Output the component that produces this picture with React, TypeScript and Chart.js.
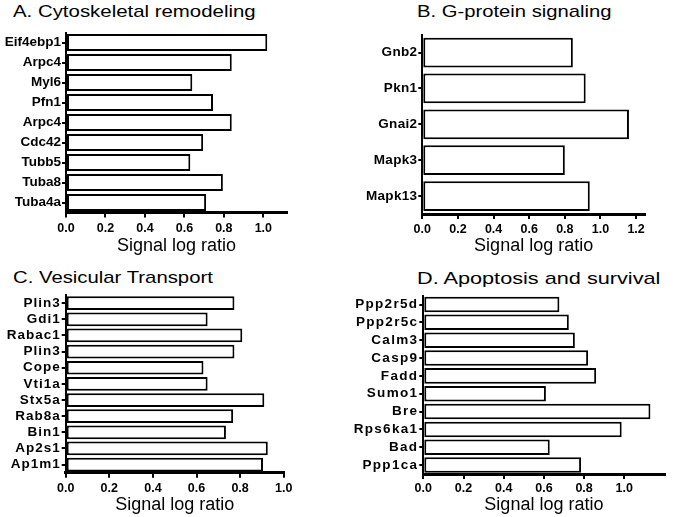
import React, { useEffect, useRef } from "react";
import { Chart, registerables } from "chart.js";

Chart.register(...registerables);

// ---------- Data ----------
const A_LABELS = ["Eif4ebp1", "Arpc4", "Myl6", "Pfn1", "Arpc4", "Cdc42", "Tubb5", "Tuba8", "Tuba4a"];
const A_VALUES = [1.02, 0.84, 0.64, 0.745, 0.84, 0.695, 0.63, 0.795, 0.71];
const A_TICKS = [0, 0.2, 0.4, 0.6, 0.8, 1.0];
const A_MAX = 1.12;

const B_LABELS = ["Gnb2", "Pkn1", "Gnai2", "Mapk3", "Mapk13"];
const B_VALUES = [0.845, 0.917, 1.16, 0.8, 0.94];
const B_TICKS = [0, 0.2, 0.4, 0.6, 0.8, 1.0, 1.2];
const B_MAX = 1.25;

const C_LABELS = ["Plin3", "Gdi1", "Rabac1", "Plin3", "Cope", "Vti1a", "Stx5a", "Rab8a", "Bin1", "Ap2s1", "Ap1m1"];
const C_VALUES = [0.774, 0.651, 0.81, 0.774, 0.632, 0.651, 0.911, 0.768, 0.735, 0.927, 0.905];
const C_TICKS = [0, 0.2, 0.4, 0.6, 0.8, 1.0];
const C_MAX = 1.0;

const D_LABELS = ["Ppp2r5d", "Ppp2r5c", "Calm3", "Casp9", "Fadd", "Sumo1", "Bre", "Rps6ka1", "Bad", "Ppp1ca"];
const D_VALUES = [0.677, 0.724, 0.754, 0.82, 0.86, 0.61, 1.13, 0.987, 0.629, 0.785];
const D_TICKS = [0, 0.2, 0.4, 0.6, 0.8, 1.0];
const D_MAX = 1.2;

const AXIS_TITLE = "Signal log ratio";
const TITLES = ["A. Cytoskeletal remodeling", "B. G-protein signaling", "C. Vesicular Transport", "D. Apoptosis and survival"];

const FAMILY = "'Liberation Sans', Arial, Helvetica, sans-serif";

type Layout = {
  left: number; top: number; width: number; height: number;
  x0: number; x1: number; y0: number; y1: number;
  tickPad: number; axisTitleY: number; barPct: number; labelSize: number; labelSpacing: number;
};

function Panel(props: { labels: string[]; values: number[]; ticks: number[]; max: number; lay: Layout }) {
  const ref = useRef<HTMLCanvasElement | null>(null);
  const { labels, values, ticks, max, lay } = props;
  useEffect(() => {
    if (!ref.current) return;
    const titleSize = 18;
    const xh = lay.axisTitleY - lay.y1 + (titleSize * 1.2) / 2;
    const yw = lay.x0 - lay.left;
    const spacingPlugin = {
      id: "labelSpacing",
      afterDatasetsDraw(chart: any) {
        chart.ctx.letterSpacing = `${lay.labelSpacing}px`;
      },
      afterDraw(chart: any) {
        chart.ctx.letterSpacing = "0px";
      },
    };
    const chart = new Chart(ref.current, {
      type: "bar",
      data: {
        labels,
        datasets: [
          {
            data: values,
            backgroundColor: "#ffffff",
            borderColor: "#000000",
            borderWidth: 2,
            borderSkipped: false,
            barPercentage: lay.barPct,
            categoryPercentage: 1,
          },
        ],
      },
      plugins: [spacingPlugin],
      options: {
        indexAxis: "y",
        responsive: false,
        animation: false,
        devicePixelRatio: 1,
        layout: {
          padding: {
            left: 0,
            right: lay.left + lay.width - lay.x1,
            top: lay.y0 - lay.top,
            bottom: lay.top + lay.height - lay.y1 - xh,
          },
        },
        plugins: {
          legend: { display: false },
          tooltip: { enabled: false },
          title: { display: false },
        },
        scales: {
          x: {
            type: "linear",
            position: "bottom",
            min: 0,
            max,
            afterBuildTicks: (s: any) => {
              s.ticks = ticks.map((v) => ({ value: v }));
            },
            afterFit: (s: any) => {
              s.height = xh;
            },
            border: { display: true, color: "#000", width: 3 },
            grid: {
              display: true,
              drawOnChartArea: false,
              drawTicks: true,
              tickLength: 5,
              color: "#000",
              lineWidth: 2,
            },
            ticks: {
              color: "#000",
              padding: lay.tickPad,
              autoSkip: false,
              maxRotation: 0,
              font: { family: FAMILY, size: 12.5, weight: "bold" },
              callback: (v: any) => Number(v).toFixed(1),
            },
            title: {
              display: true,
              text: AXIS_TITLE,
              color: "#000",
              font: { family: FAMILY, size: titleSize },
              padding: { top: 0, bottom: 0 },
            },
          },
          y: {
            type: "category",
            afterFit: (s: any) => {
              s.width = yw;
            },
            border: { display: true, color: "#000", width: 2 },
            grid: {
              display: true,
              offset: false,
              drawOnChartArea: false,
              drawTicks: true,
              tickLength: 4,
              color: "#000",
              lineWidth: 2,
            },
            ticks: {
              z: 1,
              color: "#000",
              padding: 1,
              autoSkip: false,
              font: { family: FAMILY, size: lay.labelSize, weight: "bold" },
            },
          },
        },
      } as any,
    });
    return () => chart.destroy();
  }, []);
  return (
    <canvas
      ref={ref}
      width={lay.width}
      height={lay.height}
      style={{ position: "absolute", left: lay.left, top: lay.top, width: lay.width, height: lay.height }}
    />
  );
}

function Title(props: { text: string; left: number; baseline: number; stretch: number }) {
  const size = 17;
  return (
    <div
      style={{
        position: "absolute",
        left: props.left,
        top: props.baseline - 14.4,
        fontFamily: FAMILY,
        fontSize: size,
        lineHeight: `${size}px`,
        whiteSpace: "nowrap",
        color: "#000",
        transform: `scaleX(${props.stretch})`,
        transformOrigin: "left top",
      }}
    >
      {props.text}
    </div>
  );
}

export default function App() {
  const layA: Layout = { left: 0, top: 22, width: 300, height: 236, x0: 66, x1: 287, y0: 32.5, y1: 212.5, tickPad: 4, axisTitleY: 246, barPct: 0.85, labelSize: 13.5, labelSpacing: 0 };
  const layB: Layout = { left: 340, top: 22, width: 333, height: 236, x0: 422.3, x1: 645, y0: 34.6, y1: 214, tickPad: 3, axisTitleY: 246, barPct: 0.83, labelSize: 13.5, labelSpacing: 0.3 };
  const layC: Layout = { left: 0, top: 286, width: 300, height: 231, x0: 65.7, x1: 283.7, y0: 294.4, y1: 472.7, tickPad: 3, axisTitleY: 505, barPct: 0.85, labelSize: 13.5, labelSpacing: 1 };
  const layD: Layout = { left: 340, top: 286, width: 333, height: 231, x0: 423.3, x1: 664.5, y0: 295.6, y1: 474, tickPad: 2, axisTitleY: 505, barPct: 0.87, labelSize: 13.5, labelSpacing: 1.3 };
  return (
    <div style={{ position: "absolute", left: 0, top: 0, width: 673, height: 517, background: "#fff", overflow: "hidden" }}>
      <Title text={TITLES[0]} left={13} baseline={17.3} stretch={1.2} />
      <Title text={TITLES[1]} left={417} baseline={17.3} stretch={1.19} />
      <Title text={TITLES[2]} left={13.3} baseline={283.3} stretch={1.195} />
      <Title text={TITLES[3]} left={417} baseline={284.3} stretch={1.275} />
      <Panel labels={A_LABELS} values={A_VALUES} ticks={A_TICKS} max={A_MAX} lay={layA} />
      <Panel labels={B_LABELS} values={B_VALUES} ticks={B_TICKS} max={B_MAX} lay={layB} />
      <Panel labels={C_LABELS} values={C_VALUES} ticks={C_TICKS} max={C_MAX} lay={layC} />
      <Panel labels={D_LABELS} values={D_VALUES} ticks={D_TICKS} max={D_MAX} lay={layD} />
    </div>
  );
}
